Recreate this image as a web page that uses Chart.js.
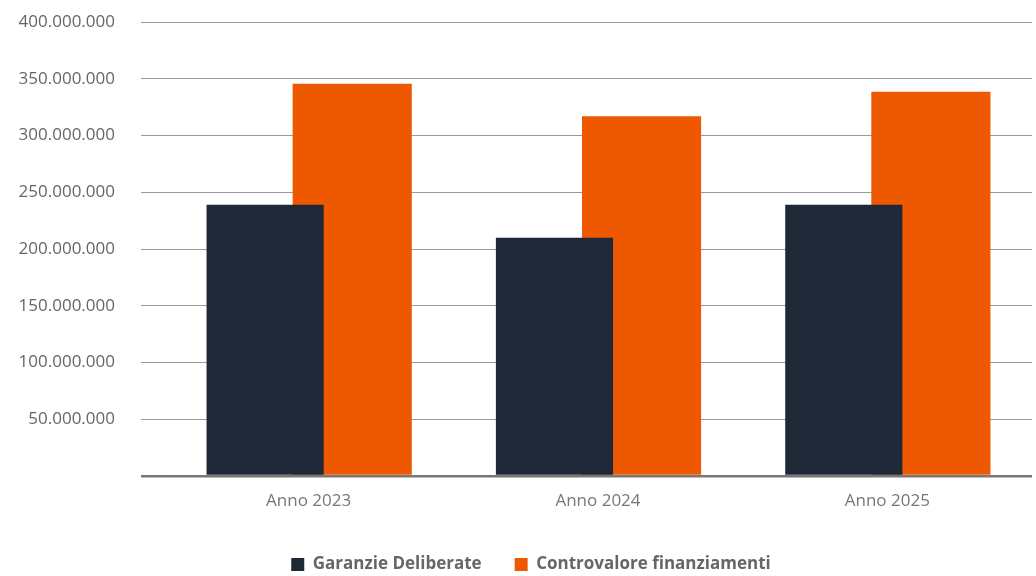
<!DOCTYPE html>
<html>
<head>
<meta charset="utf-8">
<script src="https://cdn.jsdelivr.net/npm/chart.js@4"></script>
<style>
html,body{margin:0;padding:0;background:#fff;}
#wrap{width:1036px;height:576px;position:relative;}
</style>
</head>
<body>
<div id="wrap"><canvas id="c" width="1036" height="576"></canvas></div>
<script>
const categories = ['Anno 2023', 'Anno 2024', 'Anno 2025'];
const garanzieDeliberate = [239000000, 210000000, 239000000];
const controvaloreFinanziamenti = [345500000, 317000000, 338500000];
const seriesNames = ['Garanzie Deliberate', 'Controvalore finanziamenti'];
const yMax = 400000000;
const yStep = 50000000;

function fmt(v) {
  if (v === 0) return '';
  return String(Math.round(v)).replace(/\B(?=(\d{3})+(?!\d))/g, '.');
}

const legendShift = {
  id: 'legendShift',
  afterLayout(chart) {
    if (chart.legend) {
      chart.legend.left += 26;
      chart.legend.right += 4;
    }
  }
};

new Chart(document.getElementById('c'), {
  type: 'bar',
  data: {
    labels: categories,
    datasets: [
      {
        label: seriesNames[0],
        data: garanzieDeliberate,
        backgroundColor: '#1F2837',
        categoryPercentage: 0.602,
        barPercentage: 1.345
      },
      {
        label: seriesNames[1],
        data: controvaloreFinanziamenti,
        backgroundColor: '#EE5800',
        categoryPercentage: 0.602,
        barPercentage: 1.368
      }
    ]
  },
  plugins: [legendShift],
  options: {
    responsive: false,
    animation: false,
    layout: { padding: { left: 0, right: 4, top: 22, bottom: -7 } },
    plugins: {
      tooltip: { enabled: false },
      legend: {
        position: 'bottom',
        labels: {
          boxWidth: 13,
          boxHeight: 13,
          padding: 33,
          color: '#666',
          font: { family: 'Open Sans', size: 17, weight: 'bold' }
        }
      }
    },
    scales: {
      x: {
        grid: { display: false },
        border: { display: false },
        afterFit: s => { s.height = 47; },
        ticks: {
          color: '#777',
          padding: 7,
          font: { family: 'Open Sans', size: 17 }
        }
      },
      y: {
        min: 0,
        max: yMax,
        afterFit: s => { s.width = 164; s.paddingTop = 0; s.paddingBottom = 0; },
        border: { display: false },
        grid: {
          tickLength: 23,
          color: ctx => ctx.tick && ctx.tick.value === 0 ? '#777' : '#999',
          tickColor: ctx => ctx.tick && ctx.tick.value === 0 ? '#777' : '#999',
          lineWidth: ctx => ctx.tick && ctx.tick.value === 0 ? 2.5 : 1
        },
        ticks: {
          stepSize: yStep,
          padding: 26,
          color: '#666',
          font: { family: 'Open Sans', size: 17 },
          callback: v => fmt(v)
        }
      }
    }
  }
});
</script>
</body>
</html>
